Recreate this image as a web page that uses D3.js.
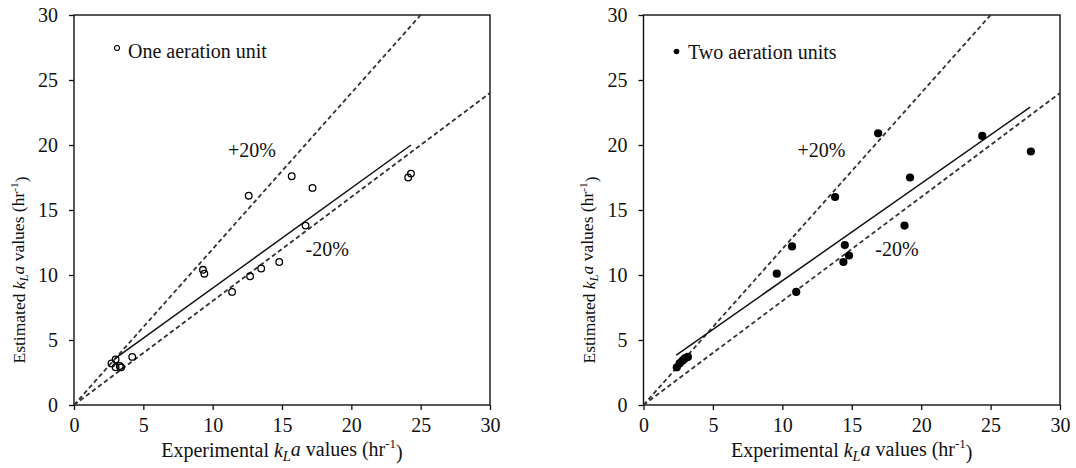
<!DOCTYPE html>
<html>
<head>
<meta charset="utf-8">
<script src="https://cdn.jsdelivr.net/npm/d3@7"></script>
<style>
  body { margin: 0; background: #fff; }
  svg { display: block; }
  svg text { font-family: "Liberation Serif", "Times New Roman", serif; }
</style>
</head>
<body>
<div id="chart"></div>
<script>
// measured vs. estimated kLa, one and two aeration units
const oneUnitX = [2.7, 3.0, 3.0, 3.3, 3.4, 4.2, 9.3, 9.4, 11.4, 12.6, 12.7, 13.5, 14.8, 15.7, 16.7, 17.2, 24.1, 24.3];
const oneUnitY = [3.2, 3.5, 2.9, 3.0, 2.9, 3.7, 10.4, 10.1, 8.7, 16.1, 9.9, 10.5, 11.0, 17.6, 13.8, 16.7, 17.5, 17.8];

const twoUnitX = [2.4, 2.6, 2.8, 2.9, 3.0, 3.2, 9.6, 10.7, 11.0, 13.8, 14.4, 14.5, 14.8, 16.9, 18.8, 19.2, 24.4, 27.9];
const twoUnitY = [2.9, 3.2, 3.4, 3.5, 3.6, 3.7, 10.1, 12.2, 8.7, 16.0, 11.0, 12.3, 11.5, 20.9, 13.8, 17.5, 20.7, 19.5];

// linear fits: [slope, intercept], drawn over [xFrom, xTo]
const oneUnitFit = [0.77, 1.29];
const oneUnitFitRange = [2.95, 24.3];
const twoUnitFit = [0.748, 2.08];
const twoUnitFitRange = [2.36, 27.85];

// +/-20% bands as multipliers of the experimental value
const bandFactors = [1.2, 0.8];
const bandLabels = ["+20%", "-20%"];
const bandLabelPos = [[11.1, 19.1], [16.7, 11.5]];

const axisTicks = [0, 5, 10, 15, 20, 25, 30];
const axisMax = 30;

const width = 1076, height = 468;
const plotTop = 15, plotBottom = 405;
const serif = '"Liberation Serif", "Times New Roman", serif';

const svg = d3.select("#chart")
  .append("svg")
  .attr("width", width)
  .attr("height", height);

const panels = [
  { left: 74, right: 490, xs: oneUnitX, ys: oneUnitY, fit: oneUnitFit, fitRange: oneUnitFitRange,
    label: "One aeration unit", filled: false, legend: { mx: 43, my: 48, tx: 54, ty: 58 } },
  { left: 643.5, right: 1060, xs: twoUnitX, ys: twoUnitY, fit: twoUnitFit, fitRange: twoUnitFitRange,
    label: "Two aeration units", filled: true, legend: { mx: 33, my: 51.5, tx: 44.5, ty: 59 } }
];

// italic k with subscript L, italic a
const kla = (sel) => {
  sel.append("tspan").style("font-style", "italic").text("k");
  sel.append("tspan").style("font-style", "italic").attr("font-size", "0.72em").attr("dy", "0.25em").text("L");
  sel.append("tspan").style("font-style", "italic").attr("dy", "-0.25em").text("a");
};
const hrUnit = (sel) => {
  sel.append("tspan").text(" values (hr");
  sel.append("tspan").attr("font-size", "0.65em").attr("dy", "-0.55em").text("-1");
  sel.append("tspan").attr("dy", "0.55em").text(")");
};

panels.forEach(p => {
  const x = d3.scaleLinear().domain([0, axisMax]).range([p.left, p.right]);
  const y = d3.scaleLinear().domain([0, axisMax]).range([plotBottom, plotTop]);
  const g = svg.append("g");

  // axes
  const xAxis = g.append("g")
    .attr("transform", `translate(0, ${plotBottom})`)
    .call(d3.axisBottom(x).tickValues(axisTicks).tickSize(5).tickSizeOuter(0).tickPadding(8));
  const yAxis = g.append("g")
    .attr("transform", `translate(${p.left}, 0)`)
    .call(d3.axisLeft(y).tickValues(axisTicks).tickSize(5).tickSizeOuter(0).tickPadding(11));

  [xAxis, yAxis].forEach(a => {
    a.attr("font-family", serif).attr("font-size", 20);
    a.select(".domain").remove();
    a.selectAll("line").attr("stroke", "#111").attr("stroke-width", 1.3);
    a.selectAll("text").attr("fill", "#111");
  });

  // frame
  g.append("rect")
    .attr("x", p.left)
    .attr("y", plotTop)
    .attr("width", p.right - p.left)
    .attr("height", plotBottom - plotTop)
    .attr("fill", "none")
    .attr("stroke", "#111")
    .attr("stroke-width", 1.4);

  // +/-20% dashed lines from the origin to the frame
  bandFactors.forEach(f => {
    const xEnd = Math.min(axisMax, axisMax / f);
    g.append("line")
      .attr("x1", x(0)).attr("y1", y(0))
      .attr("x2", x(xEnd)).attr("y2", y(xEnd * f))
      .attr("stroke", "#333")
      .attr("stroke-width", 1.8)
      .attr("stroke-dasharray", "4.5 3");
  });

  bandLabels.forEach((t, i) => {
    g.append("text")
      .attr("x", x(bandLabelPos[i][0]))
      .attr("y", y(bandLabelPos[i][1]))
      .attr("fill", "#111")
      .style("font-size", "20px")
      .text(t);
  });

  // fitted line
  const fitLine = d3.line()
    .x(d => x(d))
    .y(d => y(p.fit[0] * d + p.fit[1]));
  g.append("path")
    .datum(p.fitRange)
    .attr("d", fitLine)
    .attr("fill", "none")
    .attr("stroke", "#111")
    .attr("stroke-width", 1.5);

  // points
  g.selectAll(".pt")
    .data(p.xs.map((v, i) => [v, p.ys[i]]))
    .join("circle")
    .attr("class", "pt")
    .attr("cx", d => x(d[0]))
    .attr("cy", d => y(d[1]))
    .attr("r", p.filled ? 4.1 : 3.3)
    .attr("fill", p.filled ? "#000" : "none")
    .attr("stroke", "#000")
    .attr("stroke-width", p.filled ? 0 : 1.3);

  // legend
  g.append("circle")
    .attr("cx", p.left + p.legend.mx)
    .attr("cy", p.legend.my)
    .attr("r", p.filled ? 2.8 : 2.5)
    .attr("fill", p.filled ? "#000" : "none")
    .attr("stroke", "#000")
    .attr("stroke-width", p.filled ? 0 : 1.1);
  g.append("text")
    .attr("x", p.left + p.legend.tx)
    .attr("y", p.legend.ty)
    .attr("fill", "#111")
    .style("font-size", "20px")
    .text(p.label);

  // axis titles
  const xt = g.append("text")
    .attr("x", (p.left + p.right) / 2)
    .attr("y", 457)
    .attr("text-anchor", "middle")
    .attr("fill", "#111")
    .style("font-size", "20px");
  xt.append("tspan").text("Experimental ");
  kla(xt);
  hrUnit(xt);

  const yt = g.append("text")
    .attr("transform", `translate(${p.left - 49}, 270) rotate(-90)`)
    .attr("text-anchor", "middle")
    .attr("fill", "#111")
    .style("font-size", "17.5px");
  yt.append("tspan").text("Estimated ");
  kla(yt);
  hrUnit(yt);
});
</script>
</body>
</html>
